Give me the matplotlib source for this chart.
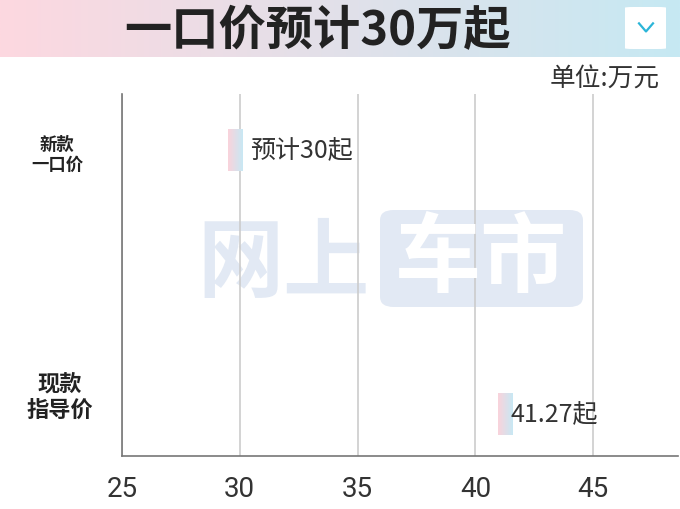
import numpy as np
import matplotlib.pyplot as plt
from matplotlib.patches import FancyBboxPatch

plt.rcParams['font.family'] = ['Noto Sans CJK SC', 'DejaVu Sans']
plt.rcParams['axes.unicode_minus'] = False

# 数据
categories = ["现款\n指导价", "新款\n一口价"]
values = [41.27, 30]
value_labels = ["41.27起", "预计30起"]
xticks = [25, 30, 35, 40, 45]
title = "一口价预计30万起"
unit = "单位:万元"

fig = plt.figure(figsize=(6.8, 5.1), dpi=100)

# 顶部渐变标题栏
banner = fig.add_axes([0, 1 - 58 / 510, 1, 58 / 510])
grad = np.linspace(0, 1, 256).reshape(1, -1)
c1 = np.array([0xfd, 0xd8, 0xe0]) / 255
c2 = np.array([0xc6, 0xe9, 0xf3]) / 255
img = c1[None, None, :] * (1 - grad[..., None]) + c2[None, None, :] * grad[..., None]
banner.imshow(img, aspect='auto', extent=[0, 1, 0, 1])
banner.set_xlim(0, 1)
banner.set_ylim(0, 1)
banner.axis('off')
banner.text(318 / 680, 0.46, title, ha='center', va='center', fontsize=34,
            fontweight='bold', color='#222222')
box = FancyBboxPatch((625 / 680, 8 / 58), 41 / 680, 1 - 16 / 58,
                     boxstyle="round,pad=0,rounding_size=0.012",
                     transform=banner.transAxes, facecolor='white', edgecolor='none')
banner.add_patch(box)
banner.plot([639 / 680, 646 / 680, 653 / 680], [0.58, 0.44, 0.58], color='#2bb5d8',
            lw=1.6, transform=banner.transAxes)

fig.text(660 / 680, 1 - 80 / 510, unit, ha='right', va='center', fontsize=18.5,
         color='#333333', fontweight='light')

# 主图
ax = fig.add_axes([122 / 680, 1 - 457 / 510, 556 / 680, 362 / 510])

# 水印
wm = '#e2e9f4'
ax.text(0.29, 0.53, "网上", transform=ax.transAxes, ha='center', va='center',
        fontsize=62, fontweight='bold', color=wm, zorder=0)
wbox = FancyBboxPatch((380 / 680, 1 - 308 / 510), 203 / 680, 97 / 510,
                      boxstyle="round,pad=0,rounding_size=0.02",
                      transform=fig.transFigure, facecolor=wm, edgecolor='none', zorder=0)
fig.add_artist(wbox)
fig.text(481 / 680, 1 - 260 / 510, "车市", ha='center', va='center', fontsize=62,
         fontweight='bold', color='white', zorder=1)

ax.patch.set_alpha(0)
ax.set_xticks(xticks)
ax.set_xticklabels([str(t) for t in xticks], fontsize=20, color='#333333',
                   family=['Roboto', 'DejaVu Sans'], fontweight='normal')
ax.tick_params(axis='x', length=0, pad=14)
ax.grid(axis='x', color='#cccccc', lw=1.2, zorder=1)
ax.set_axisbelow(True)
for s in ['top', 'right']:
    ax.spines[s].set_visible(False)
ax.spines['left'].set_color('#777777')
ax.spines['bottom'].set_color('#777777')
ax.spines['left'].set_linewidth(1.2)
ax.spines['bottom'].set_linewidth(1.2)

ypos = np.arange(len(categories))
ax.set_yticks(ypos)
ax.set_yticklabels([])
ax.tick_params(axis='y', length=0)
label_sizes = [16, 12.5]
label_x = [60 / 680, 57 / 680]
label_y = [1 - 397 / 510, 1 - 155 / 510]
for cat, sz, lx, ly in zip(categories, label_sizes, label_x, label_y):
    fig.text(lx, ly, cat, ha='center', va='center', fontsize=sz, fontweight='bold',
             color='#222222', linespacing=1.15)

# 渐变小柱
bar_w = 0.6
bar_h = 0.159
bar_grad = np.linspace(0, 1, 64).reshape(1, -1)
bc1 = np.array([0xfa, 0xd3, 0xdb]) / 255
bc2 = np.array([0xc8, 0xe8, 0xf4]) / 255
bar_img = bc1[None, None, :] * (1 - bar_grad[..., None]) + bc2[None, None, :] * bar_grad[..., None]
pads = [-1, 6]
shift = [0, -0.2]
for y, v, lab, p, sh in zip(ypos, values, value_labels, pads, shift):
    ax.imshow(bar_img, aspect='auto',
              extent=[v + sh - bar_w / 2, v + sh + bar_w / 2, y - bar_h / 2, y + bar_h / 2],
              zorder=3)
    ax.annotate(lab, (v + sh + bar_w / 2, y), xytext=(p, 0), textcoords='offset points',
                ha='left', va='center', fontsize=18, color='#333333', zorder=4,
                fontweight='light', family=['Noto Sans CJK SC', 'DejaVu Sans'])

ax.set_xlim(25, 48.6)
ax.set_ylim(-0.159, 1.212)

fig.savefig("out.png", dpi=100)
